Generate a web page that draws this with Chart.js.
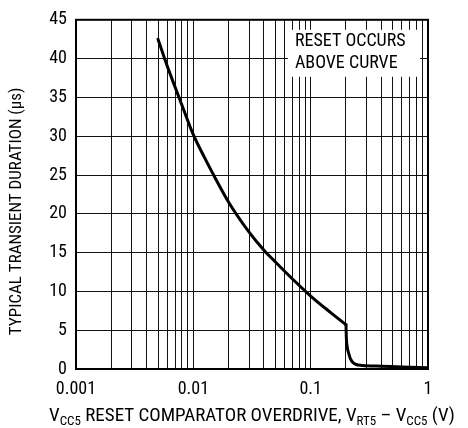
<!DOCTYPE html>
<html>
<head>
<meta charset="UTF-8">
<title>Transient duration vs overdrive</title>
<script src="https://cdn.jsdelivr.net/npm/chart.js"></script>
<style>
  body { margin: 0; background: #fff; }
  #wrap { width: 468px; height: 428px; }
</style>
</head>
<body>
<div id="wrap"><canvas id="c" width="468" height="428"></canvas></div>
<script>
// curve: overdrive (V) vs typical transient duration (us)
// smooth part up to the knee at 0.2 V
const overdrive = [0.005, 0.006, 0.007, 0.008, 0.01, 0.0125, 0.015, 0.02, 0.03, 0.04, 0.05, 0.07, 0.1, 0.15, 0.2];
const duration  = [42.5, 39.0, 36.3, 34.0, 30.2, 27.2, 24.9, 21.5, 17.6, 15.3, 13.8, 11.6, 9.4, 7.2, 5.7];
// drop after the knee
const tailOverdrive = [0.2, 0.2015, 0.205, 0.211, 0.217, 0.23, 0.245, 0.265, 0.3, 0.4, 0.6, 1.0];
const tailDuration  = [5.7, 4.0, 2.8, 2.0, 1.4, 0.8, 0.58, 0.47, 0.42, 0.36, 0.27, 0.17];
const xMajorTicks = [0.001, 0.01, 0.1, 1];
const xTickLabels = ['0.001', '0.01', '0.1', '1'];
const yTicks = [0, 5, 10, 15, 20, 25, 30, 35, 40, 45];
const yTitle = 'TYPICAL TRANSIENT DURATION (\u00B5s)';
const xTitle = [['V'], ['CC5', 'sub'], [' RESET COMPARATOR OVERDRIVE, V'], ['RT5', 'sub'], [' \u2013 V'], ['CC5', 'sub'], [' (V)']];
const noteLines = ['RESET OCCURS', 'ABOVE CURVE'];

const FONT = "'Liberation Sans Narrow', 'Roboto Condensed', 'Liberation Sans', Arial, sans-serif";

const overlay = {
  id: 'overlay',
  afterDraw(chart) {
    const { ctx, chartArea: a, scales: { x, y } } = chart;
    ctx.save();

    // note box, blanks the grid behind the text
    const bx = x.getPixelForValue(0.064), by = a.top + 10;
    ctx.fillStyle = '#fff';
    ctx.fillRect(bx, by, a.right - 8 - bx, 47);
    ctx.fillStyle = '#000';
    ctx.font = '18px ' + FONT;
    ctx.textBaseline = 'middle';
    ctx.textAlign = 'left';
    noteLines.forEach((t, i) => ctx.fillText(t, bx + 7, by + 12 + i * 22));

    // frame
    ctx.strokeStyle = '#000';
    ctx.lineWidth = 2;
    ctx.strokeRect(a.left, a.top, a.right - a.left, a.bottom - a.top);

    // y title
    ctx.save();
    ctx.translate(17, (a.top + a.bottom) / 2 + 17);
    ctx.rotate(-Math.PI / 2);
    ctx.textAlign = 'center';
    ctx.font = '17px ' + FONT;
    ctx.fillText(yTitle, 0, 0);
    ctx.restore();

    // x title with subscripts
    const main = '19px ' + FONT, sub = '13px ' + FONT;
    let w = 0;
    xTitle.forEach(([t, s]) => { ctx.font = s ? sub : main; w += ctx.measureText(t).width; });
    let cx = (a.left + a.right) / 2 - w / 2;
    const base = 421;
    ctx.textAlign = 'left';
    ctx.textBaseline = 'alphabetic';
    xTitle.forEach(([t, s]) => {
      ctx.font = s ? sub : main;
      ctx.fillText(t, cx, s ? base + 4 : base);
      cx += ctx.measureText(t).width;
    });
    ctx.restore();
  }
};

const curveStyle = {
  borderColor: '#000',
  borderWidth: 3,
  pointRadius: 0,
  cubicInterpolationMode: 'monotone',
  borderJoinStyle: 'round',
  borderCapStyle: 'round',
  fill: false
};

new Chart(document.getElementById('c'), {
  type: 'line',
  data: {
    datasets: [
      Object.assign({ data: overdrive.map((v, i) => ({ x: v, y: duration[i] })) }, curveStyle),
      Object.assign({ data: tailOverdrive.map((v, i) => ({ x: v, y: tailDuration[i] })) }, curveStyle)
    ]
  },
  options: {
    responsive: false,
    animation: false,
    layout: { padding: { left: 0, right: 40, top: 18, bottom: 29 } },
    plugins: { legend: { display: false }, tooltip: { enabled: false } },
    scales: {
      x: {
        type: 'logarithmic',
        min: 0.001,
        max: 1,
        afterBuildTicks(scale) {
          const t = [];
          xMajorTicks.forEach((m, i) => {
            if (i === xMajorTicks.length - 1) { t.push({ value: m }); return; }
            for (let k = 1; k < 10; k++) t.push({ value: m * k });
          });
          scale.ticks = t;
        },
        afterFit(scale) { scale.height = 30; },
        ticks: {
          autoSkip: false,
          maxRotation: 0,
          padding: 10,
          color: '#000',
          font: { family: FONT, size: 18 },
          callback(v) {
            const i = xMajorTicks.findIndex(m => Math.abs(m - v) / m < 1e-6);
            return i >= 0 ? xTickLabels[i] : '';
          }
        },
        grid: { color: '#111', lineWidth: 1, drawTicks: false },
        border: { color: '#000', width: 2 }
      },
      y: {
        min: 0,
        max: 45,
        afterBuildTicks(scale) { scale.ticks = yTicks.map(v => ({ value: v })); },
        afterFit(scale) { scale.width = 76; },
        ticks: {
          padding: 9,
          color: '#000',
          font: { family: FONT, size: 18 }
        },
        grid: { color: '#111', lineWidth: 1, drawTicks: false },
        border: { color: '#000', width: 2 }
      }
    }
  },
  plugins: [overlay]
});
</script>
</body>
</html>
